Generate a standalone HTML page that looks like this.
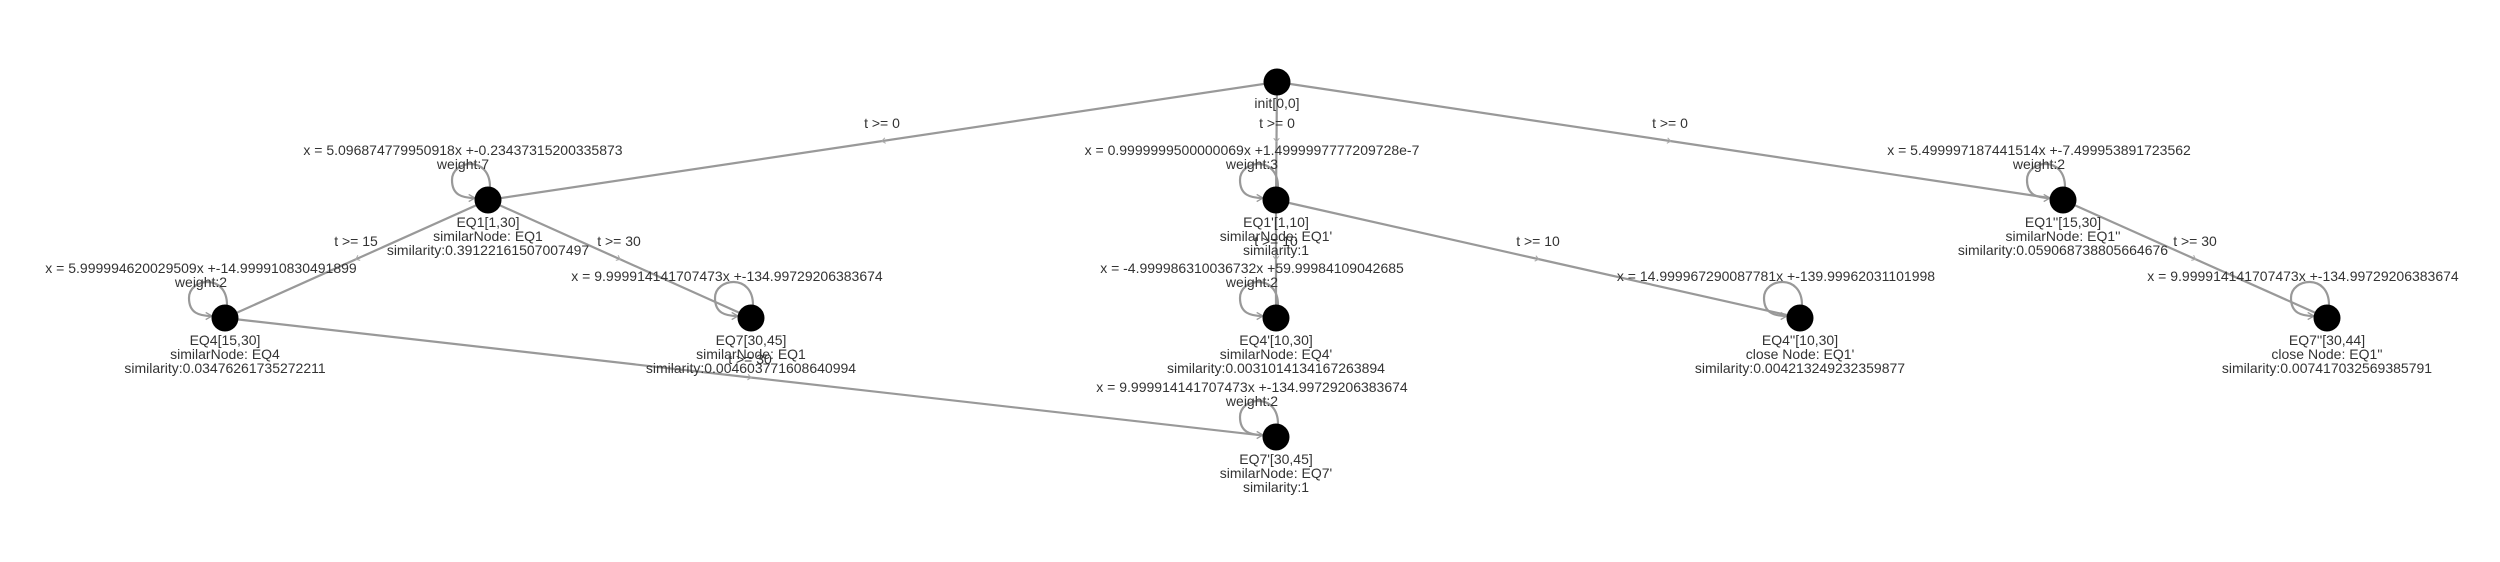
<!DOCTYPE html>
<html><head><meta charset="utf-8"><style>
html,body{margin:0;padding:0;background:#fff;width:2500px;height:562px;overflow:hidden}
svg text{font-family:"Liberation Sans",Arial,sans-serif;font-size:14px;fill:#333;text-anchor:middle;dominant-baseline:central}
.e{stroke:#999;stroke-width:2.2;fill:none}
.l{stroke:#999;stroke-width:2.2;fill:none}
</style></head><body>
<svg width="2500" height="562" xmlns="http://www.w3.org/2000/svg">
<defs>
<marker id="m" viewBox="0 0 10 10" refX="5" refY="5" markerWidth="7" markerHeight="7" orient="auto" markerUnits="userSpaceOnUse">
<path d="M1,1 L6,5 L1,9" stroke="#aaa" stroke-width="1.5" fill="none"/></marker>
<marker id="a" viewBox="0 0 10 10" refX="8" refY="5" markerWidth="9" markerHeight="9" orient="auto" markerUnits="userSpaceOnUse">
<path d="M1,1 L8,5 L1,9" stroke="#999" stroke-width="1.5" fill="none"/></marker>
</defs>
<g id="edges">
<path class="e" marker-mid="url(#m)" d="M1277,82 L882.5,141 L488,200"/>
<path class="e" marker-mid="url(#m)" d="M1277,82 L1276.5,141 L1276,200"/>
<path class="e" marker-mid="url(#m)" d="M1277,82 L1670,141 L2063,200"/>
<path class="e" marker-mid="url(#m)" d="M488,200 L356.5,259 L225,318"/>
<path class="e" marker-mid="url(#m)" d="M488,200 L619.5,259 L751,318"/>
<path class="e" marker-mid="url(#m)" d="M1276,200 L1276,259 L1276,318"/>
<path class="e" marker-mid="url(#m)" d="M1276,200 L1538,259 L1800,318"/>
<path class="e" marker-mid="url(#m)" d="M2063,200 L2195,259 L2327,318"/>
<path class="e" marker-mid="url(#m)" d="M225,318 L750.5,377.5 L1276,437"/>
</g>
<g id="loops">
<path class="l" marker-end="url(#a)" d="M490,187 C490,155 452,160 452,180 C452,195 462,198 475,198"/>
<path class="l" marker-end="url(#a)" d="M1278,187 C1278,155 1240,160 1240,180 C1240,195 1250,198 1263,198"/>
<path class="l" marker-end="url(#a)" d="M1278,305 C1278,273 1240,278 1240,298 C1240,313 1250,316 1263,316"/>
<path class="l" marker-end="url(#a)" d="M1278,424 C1278,392 1240,397 1240,417 C1240,432 1250,435 1263,435"/>
<path class="l" marker-end="url(#a)" d="M227,305 C227,273 189,278 189,298 C189,313 199,316 212,316"/>
<path class="l" marker-end="url(#a)" d="M753,305 C753,273 715,278 715,298 C715,313 725,316 738,316"/>
<path class="l" marker-end="url(#a)" d="M1802,305 C1802,273 1764,278 1764,298 C1764,313 1774,316 1787,316"/>
<path class="l" marker-end="url(#a)" d="M2065,187 C2065,155 2027,160 2027,180 C2027,195 2037,198 2050,198"/>
<path class="l" marker-end="url(#a)" d="M2329,305 C2329,273 2291,278 2291,298 C2291,313 2301,316 2314,316"/>
</g>
<g fill="#000">
<circle cx="1277" cy="82" r="13.5"/>
<circle cx="488" cy="200" r="13.5"/>
<circle cx="1276" cy="200" r="13.5"/>
<circle cx="2063" cy="200" r="13.5"/>
<circle cx="225" cy="318" r="13.5"/>
<circle cx="751" cy="318" r="13.5"/>
<circle cx="1276" cy="318" r="13.5"/>
<circle cx="1800" cy="318" r="13.5"/>
<circle cx="2327" cy="318" r="13.5"/>
<circle cx="1276" cy="437" r="13.5"/>
</g>
<g id="edgelabels">
<text x="882" y="123">t &gt;= 0</text>
<text x="1277" y="123">t &gt;= 0</text>
<text x="1670" y="123">t &gt;= 0</text>
<text x="356" y="241">t &gt;= 15</text>
<text x="619" y="241">t &gt;= 30</text>
<text x="1276" y="241">t &gt;= 10</text>
<text x="1538" y="241">t &gt;= 10</text>
<text x="2195" y="241">t &gt;= 30</text>
<text x="750" y="359">t &gt;= 30</text>
</g>
<g id="looplabels">
<text x="463" y="150">x = 5.096874779950918x +-0.23437315200335873</text>
<text x="463" y="164">weight:7</text>
<text x="1252" y="150">x = 0.9999999500000069x +1.4999997777209728e-7</text>
<text x="1252" y="164">weight:3</text>
<text x="2039" y="150">x = 5.499997187441514x +-7.499953891723562</text>
<text x="2039" y="164">weight:2</text>
<text x="1252" y="268">x = -4.999986310036732x +59.99984109042685</text>
<text x="1252" y="282">weight:2</text>
<text x="201" y="268">x = 5.999994620029509x +-14.999910830491899</text>
<text x="201" y="282">weight:2</text>
<text x="727" y="276">x = 9.999914141707473x +-134.99729206383674</text>
<text x="1776" y="276">x = 14.999967290087781x +-139.99962031101998</text>
<text x="2303" y="276">x = 9.999914141707473x +-134.99729206383674</text>
<text x="1252" y="387">x = 9.999914141707473x +-134.99729206383674</text>
<text x="1252" y="401">weight:2</text>
</g>
<g id="nodelabels">
<text x="1277" y="103">init[0,0]</text>
<text x="488" y="222">EQ1[1,30]</text>
<text x="488" y="236">similarNode: EQ1</text>
<text x="488" y="250">similarity:0.39122161507007497</text>
<text x="1276" y="222">EQ1'[1,10]</text>
<text x="1276" y="236">similarNode: EQ1'</text>
<text x="1276" y="250">similarity:1</text>
<text x="2063" y="222">EQ1''[15,30]</text>
<text x="2063" y="236">similarNode: EQ1''</text>
<text x="2063" y="250">similarity:0.059068738805664676</text>
<text x="225" y="340">EQ4[15,30]</text>
<text x="225" y="354">similarNode: EQ4</text>
<text x="225" y="368">similarity:0.03476261735272211</text>
<text x="751" y="340">EQ7[30,45]</text>
<text x="751" y="354">similarNode: EQ1</text>
<text x="751" y="368">similarity:0.004603771608640994</text>
<text x="1276" y="340">EQ4'[10,30]</text>
<text x="1276" y="354">similarNode: EQ4'</text>
<text x="1276" y="368">similarity:0.0031014134167263894</text>
<text x="1800" y="340">EQ4''[10,30]</text>
<text x="1800" y="354">close Node: EQ1'</text>
<text x="1800" y="368">similarity:0.004213249232359877</text>
<text x="2327" y="340">EQ7''[30,44]</text>
<text x="2327" y="354">close Node: EQ1''</text>
<text x="2327" y="368">similarity:0.007417032569385791</text>
<text x="1276" y="459">EQ7'[30,45]</text>
<text x="1276" y="473">similarNode: EQ7'</text>
<text x="1276" y="487">similarity:1</text>
</g>
</svg>
</body></html>
